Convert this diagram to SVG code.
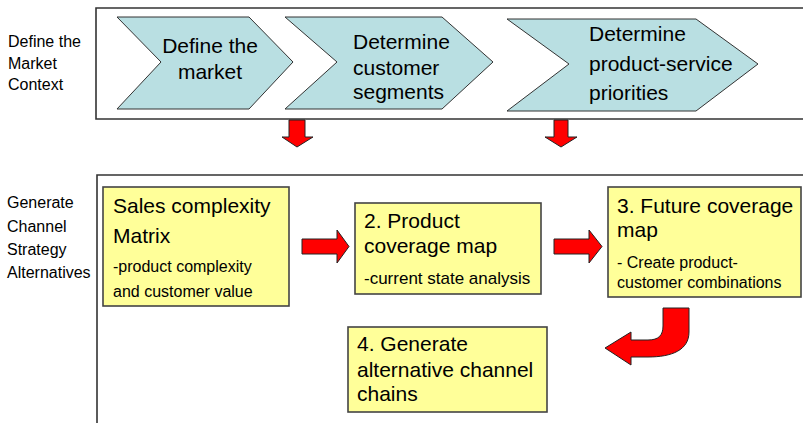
<svg xmlns="http://www.w3.org/2000/svg" width="803" height="423" viewBox="0 0 803 423">
<style>
text{font-family:"Liberation Sans",Arial,sans-serif;fill:#000}
.lbl{font-size:16px}
.big{font-size:21px}
.sm{font-size:16px}
.frame{fill:#fff;stroke:#333;stroke-width:1.6}
.chev{fill:#B9DFE2;stroke:#333;stroke-width:1}
.box{fill:#FFFF99;stroke:#444;stroke-width:1.6}
.red{fill:#FF0000;stroke:#222;stroke-width:1}
</style>
<rect width="803" height="423" fill="#fff"/>
<g id="labels">
<text class="lbl" x="8" y="47">Define the</text>
<text class="lbl" x="8" y="69">Market</text>
<text class="lbl" x="8" y="90">Context</text>
<text class="lbl" x="7" y="208">Generate</text>
<text class="lbl" x="7" y="232">Channel</text>
<text class="lbl" x="7" y="255">Strategy</text>
<text class="lbl" x="7" y="278">Alternatives</text>
</g>
<g id="frame-top"><path class="frame" d="M805,8 H96 V119 H805"/></g>
<g id="frame-bottom"><path class="frame" d="M805,175 H97 V425"/></g>
<g id="chevron1">
<polygon class="chev" points="117,17 249,17 293,62 249,109 117,109 161,62"/>
<text class="big" x="210" y="53" text-anchor="middle">Define the</text>
<text class="big" x="210" y="79" text-anchor="middle">market</text>
</g>
<g id="chevron2">
<polygon class="chev" points="285,17 442,17 493,62 442,109 285,109 337,62"/>
<text class="big" x="353" y="49">Determine</text>
<text class="big" x="353" y="75">customer</text>
<text class="big" x="353" y="99">segments</text>
</g>
<g id="chevron3">
<polygon class="chev" points="507,19 696,19 758,64 696,111 507,111 569,64"/>
<text class="big" x="589" y="41">Determine</text>
<text class="big" x="589" y="71">product-service</text>
<text class="big" x="589" y="100">priorities</text>
</g>
<g id="box1">
<rect class="box" x="103" y="187" width="186" height="119"/>
<text class="big" x="113" y="213">Sales complexity</text>
<text class="big" x="113" y="243">Matrix</text>
<text class="sm" x="113" y="272">-product complexity</text>
<text class="sm" x="113" y="297">and customer value</text>
</g>
<g id="box2">
<rect class="box" x="355" y="203" width="186" height="91"/>
<text class="big" x="364" y="228">2. Product</text>
<text class="big" x="364" y="253">coverage map</text>
<text class="sm" x="364" y="284" style="font-size:17px">-current state analysis</text>
</g>
<g id="box3">
<rect class="box" x="608" y="187" width="193" height="110"/>
<text class="big" x="617" y="213">3. Future coverage</text>
<text class="big" x="617" y="237">map</text>
<text class="sm" x="617" y="268">- Create product-</text>
<text class="sm" x="617" y="288">customer combinations</text>
</g>
<g id="box4">
<rect class="box" x="348" y="327" width="199" height="85"/>
<text class="big" x="357" y="351">4. Generate</text>
<text class="big" x="357" y="377">alternative channel</text>
<text class="big" x="357" y="401">chains</text>
</g>
<g id="connectors">
<polygon class="red" points="289,120 305,120 305,137 313,137 297,147 282,137 289,137"/>
<polygon class="red" points="554,120 568,120 568,137 577,137 561,147 545,137 554,137"/>
<polygon class="red" points="302,239 337,239 337,230 349,246.5 337,263 337,254 302,254"/>
<polygon class="red" points="554,239 589,239 589,230 602,246.5 589,263 589,254 554,254"/>
<path class="red" d="M663,308 L689,308 L689,332 C689,350 672,357 648,357 L631,357 L631,365 L605,348 L631,332 L631,340 L648,340 C659,340 663,335 663,326 Z"/>
</g>
</svg>
